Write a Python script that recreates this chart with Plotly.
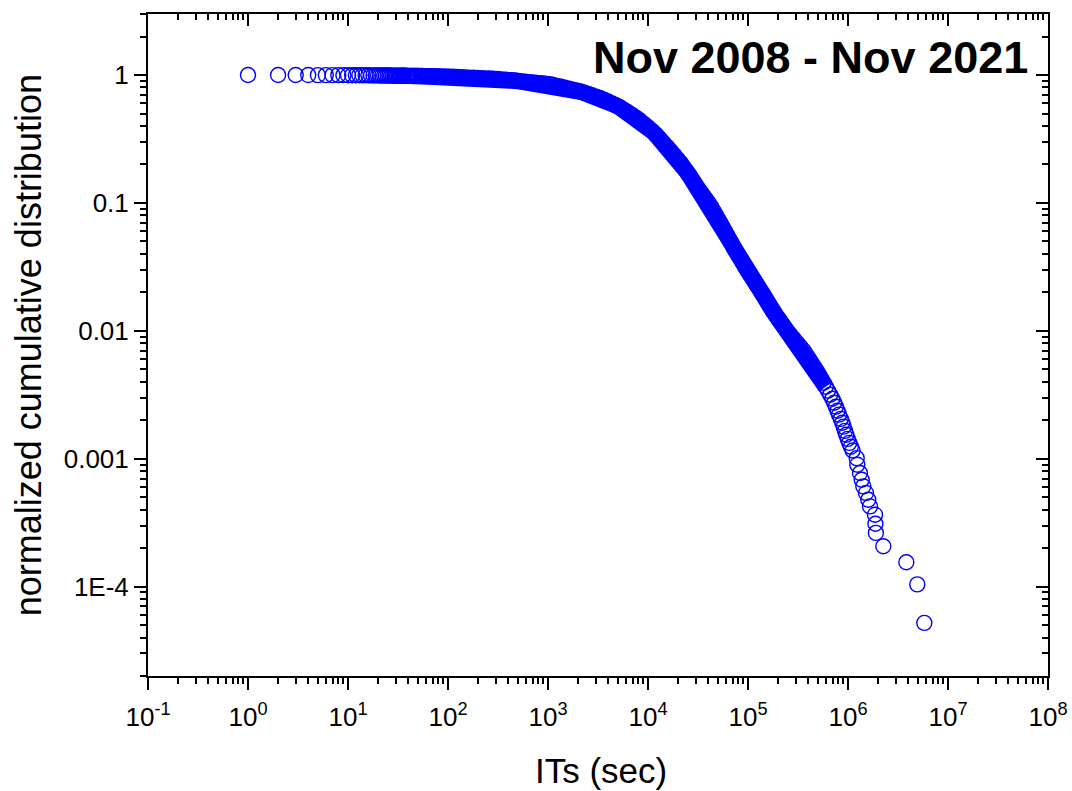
import plotly.graph_objects as go

# Inter-event times (seconds) and normalized cumulative distribution P(IT >= t)
its_plateau = list(range(1, 51)) + [55, 60, 66, 72, 79, 87, 95,
                                    104, 114, 125, 137, 150, 165, 180, 198, 217, 238, 260, 285, 313,
                                    343, 376, 412, 451, 495, 542, 594, 651, 714, 782, 857, 940, 1030]
cdf_plateau = [1.0, 0.9996, 0.9993, 0.9989, 0.9986, 0.9982, 0.9978, 0.9974, 0.9971, 0.9967,
               0.9963, 0.9959, 0.9955, 0.9951, 0.9947, 0.9943, 0.9939, 0.9935, 0.9931, 0.9927,
               0.9923, 0.9919, 0.9915, 0.9911, 0.9907, 0.9903, 0.9898, 0.9894, 0.989, 0.9886,
               0.9883, 0.9879, 0.9876, 0.9871, 0.9868, 0.9864, 0.9861, 0.9857, 0.9852, 0.9849,
               0.9845, 0.9842, 0.9838, 0.9835, 0.9831, 0.9827, 0.9824, 0.9821, 0.9817, 0.9814,
               0.981, 0.980, 0.979, 0.978, 0.977, 0.976, 0.975,
               0.972, 0.968, 0.965, 0.961, 0.958, 0.954, 0.951, 0.948, 0.944, 0.941, 0.938, 0.934, 0.931,
               0.925, 0.918, 0.911, 0.905, 0.899, 0.892, 0.886, 0.880, 0.873, 0.867, 0.861, 0.855, 0.849]

its_knee = [1100, 1202, 1318, 1445, 1585, 1738, 1905, 2089, 2291, 2512, 2754, 3020, 3311, 3631,
            3981, 4365, 4786, 5248, 5754, 6310, 6918, 7586, 8318, 9120, 10000]
cdf_knee = [0.838, 0.825, 0.813, 0.798, 0.784, 0.770, 0.757, 0.743, 0.727, 0.712, 0.695, 0.678,
            0.661, 0.640, 0.620, 0.599, 0.578, 0.557, 0.534, 0.511, 0.488, 0.464, 0.441, 0.415, 0.390]

its_decay = [10965, 12020, 13183, 14322, 15600, 16900, 18280, 19720, 21230, 22650, 24100, 25700,
             27350, 29040, 30900, 33040, 35320, 37760, 40360, 42760, 45080, 47530, 50120, 52840,
             55590, 58480, 61520, 64570, 67920, 71450, 75160, 79430, 83950, 88720, 93540, 98860,
             104700, 111400, 118300, 125900, 134000, 141900, 149600, 158100, 166700, 176600,
             188800, 201400, 215300, 229600, 245500, 265500, 286400, 309700, 335000, 360600,
             382800, 406400, 431500, 458100, 486400, 514000, 540800, 570200, 599800, 631000,
             663700, 698200, 727800, 756800, 785200, 814700, 847200, 877000, 905700, 933300,
             961600, 993100, 1030000, 1069000, 1112000]
cdf_decay = [0.365, 0.340, 0.3162, 0.2942, 0.2738, 0.2547, 0.2371, 0.2207, 0.2054, 0.1911, 0.1778,
             0.1655, 0.1540, 0.1433, 0.1334, 0.1241, 0.1155, 0.1075, 0.1000, 0.0931, 0.0866, 0.0806,
             0.0750, 0.0698, 0.0649, 0.0604, 0.0562, 0.0523, 0.0487, 0.0453, 0.0422, 0.0393, 0.0365,
             0.0340, 0.0316, 0.0294, 0.0274, 0.0255, 0.0237, 0.0221, 0.0205, 0.0191, 0.0178, 0.0165,
             0.0154, 0.0143, 0.0133, 0.0124, 0.01155, 0.01075, 0.0100, 0.00931, 0.00866, 0.00806,
             0.00750, 0.00698, 0.00649, 0.00604, 0.00562, 0.00523, 0.00487, 0.00453, 0.00422,
             0.00393, 0.00365, 0.00340, 0.00316, 0.00294, 0.00274, 0.00255, 0.00237, 0.00221,
             0.00205, 0.00191, 0.00178, 0.00165, 0.00154, 0.00143, 0.00133, 0.00124, 0.00116]

its_tail = [1222000, 1239000, 1318000, 1371000, 1422000, 1514000, 1596000, 1660000, 1862000,
            1880000, 1900000, 2254000, 3830000, 4930000, 5800000]
cdf_tail = [0.00101, 0.000898, 0.000773, 0.000685, 0.000608, 0.000540, 0.000478, 0.000424,
            0.000365, 0.000310, 0.000263, 0.000207, 0.000155, 0.000104, 0.000052]

its_sec = its_plateau + its_knee + its_decay + its_tail
cdf = cdf_plateau + cdf_knee + cdf_decay + cdf_tail

# Where the open circles pile up into a solid ribbon
DENSE_FROM, DENSE_TO = 50, 600000
dense = [(t, p) for t, p in zip(its_sec, cdf) if DENSE_FROM <= t <= DENSE_TO]

# Axis ticks
x_decades = list(range(-1, 9))
x_tick_vals = [10.0 ** d for d in x_decades]
x_tick_text = [f"10<sup>{d}</sup>" for d in x_decades]
y_tick_vals = [1, 0.1, 0.01, 0.001, 0.0001]
y_tick_text = ["1", "0.1", "0.01", "0.001", "1E-4"]

x_minor = [k * 10.0 ** d for d in range(-1, 8) for k in range(2, 10)]
y_minor = [k * 10.0 ** d for d in range(-5, 1) for k in range(2, 10)]

x_range = [-1, 8]
y_range = [-4.699, 0.477]

FONT = "Arial, Liberation Sans, sans-serif"
BLUE = "#0000ff"

fig = go.Figure()
fig.add_trace(go.Scatter(
    x=[t for t, _ in dense], y=[p for _, p in dense], mode="lines",
    line=dict(color=BLUE, width=16.5), hoverinfo="skip", showlegend=False,
))
fig.add_trace(go.Scatter(
    x=its_sec, y=cdf, mode="markers",
    marker=dict(symbol="circle-open", size=15, color=BLUE, line=dict(width=1.4)),
    showlegend=False,
))
# empty trace to carry the mirrored top/right axes
fig.add_trace(go.Scatter(x=[], y=[], xaxis="x2", yaxis="y2", showlegend=False))

axis_common = dict(showgrid=False, zeroline=False, linecolor="black", linewidth=2,
                   tickcolor="black", tickwidth=2, automargin=False)

fig.update_layout(
    width=1072, height=791,
    margin=dict(l=148, r=24, t=14, b=115),
    paper_bgcolor="white", plot_bgcolor="white",
    font=dict(family=FONT, color="black"),
    xaxis=dict(type="log", range=x_range, showline=True, mirror=True,
               ticks="outside", ticklen=12, tickmode="array",
               tickvals=x_tick_vals, ticktext=x_tick_text, ticklabelstandoff=5,
               tickfont=dict(size=26, family=FONT),
               minor=dict(ticks="outside", ticklen=6, tickwidth=2, tickcolor="black",
                          tickmode="array", tickvals=x_minor, showgrid=False),
               **axis_common),
    yaxis=dict(type="log", range=y_range, showline=True, mirror=True,
               ticks="outside", ticklen=12, tickmode="array",
               tickvals=y_tick_vals, ticktext=y_tick_text,
               tickfont=dict(size=26, family=FONT),
               minor=dict(ticks="outside", ticklen=6, tickwidth=2, tickcolor="black",
                          tickmode="array", tickvals=y_minor, showgrid=False),
               **axis_common),
    xaxis2=dict(type="log", range=x_range, overlaying="x", anchor="y", side="top",
                showline=False, showticklabels=False, ticks="inside", ticklen=12,
                tickmode="array", tickvals=x_tick_vals,
                minor=dict(ticks="inside", ticklen=6, tickwidth=2, tickcolor="black",
                           tickmode="array", tickvals=x_minor, showgrid=False),
                **axis_common),
    yaxis2=dict(type="log", range=y_range, overlaying="y", anchor="x", side="right",
                showline=False, showticklabels=False, ticks="inside", ticklen=12,
                tickmode="array", tickvals=y_tick_vals,
                minor=dict(ticks="inside", ticklen=6, tickwidth=2, tickcolor="black",
                           tickmode="array", tickvals=y_minor, showgrid=False),
                **axis_common),
    annotations=[
        dict(text="<b>Nov 2008 - Nov 2021</b>", xref="paper", yref="paper",
             x=0.98, y=0.935, xanchor="right", yanchor="middle", showarrow=False,
             font=dict(size=45, family=FONT, color="black")),
        dict(text="ITs (sec)", xref="paper", yref="paper",
             x=0.503, y=-0.142, xanchor="center", yanchor="middle", showarrow=False,
             font=dict(size=35, family=FONT, color="black")),
        dict(text="normalized cumulative distribution", xref="paper", yref="paper",
             x=-0.133, y=0.5, xanchor="center", yanchor="middle", textangle=-90,
             showarrow=False, font=dict(size=36, family=FONT, color="black")),
    ],
)

fig.write_html("out.html")
